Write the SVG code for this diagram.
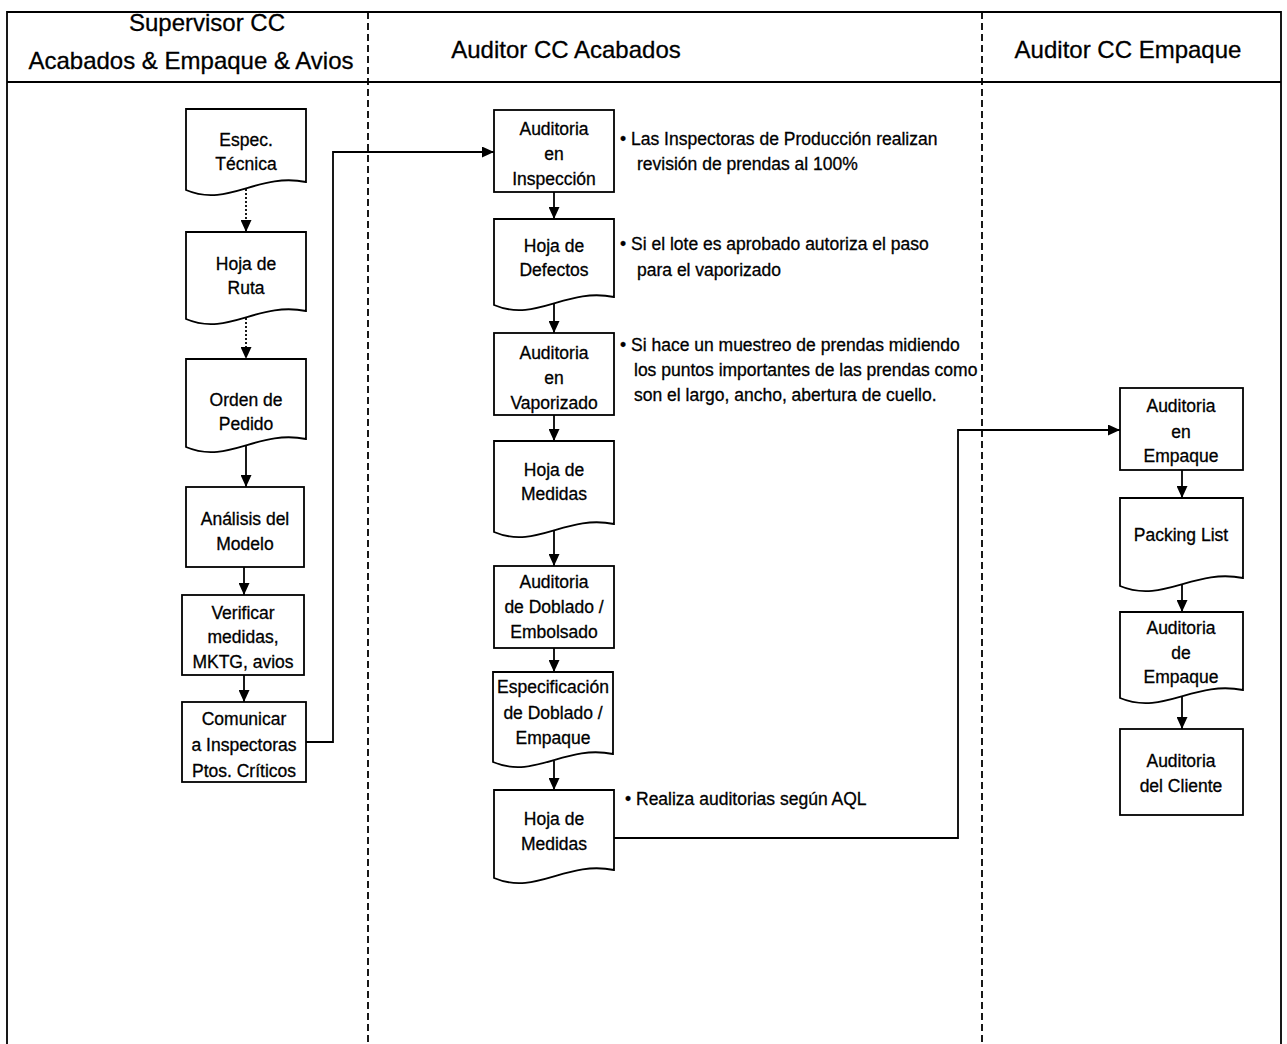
<svg xmlns="http://www.w3.org/2000/svg" width="1287" height="1044" viewBox="0 0 1287 1044">
  <style>
    text { font-family: "Liberation Sans", Arial, sans-serif; fill: #000; stroke: #000; stroke-width: 0.3; }
    .hdr { font-size: 24px; text-anchor: middle; }
    .lbl { font-size: 17.5px; text-anchor: middle; }
    .note { font-size: 17.5px; }
    .shape { fill: #fff; stroke: #000; stroke-width: 1.8; }
    .frame { fill: none; stroke: #000; stroke-width: 1.8; }
    .lane { fill: none; stroke: #000; stroke-width: 1.8; stroke-dasharray: 7 4; }
    .flow { fill: none; stroke: #000; stroke-width: 1.8; }
    .dot { fill: none; stroke: #000; stroke-width: 1.8; stroke-dasharray: 2 2; }
  </style>
  <defs>
    <marker id="arr" viewBox="0 0 12 11" refX="12" refY="5.5" markerWidth="12" markerHeight="11" markerUnits="userSpaceOnUse" orient="auto">
      <path d="M0,0 L12,5.5 L0,11 Z" fill="#000"/>
    </marker>
  </defs>

  <rect width="1287" height="1044" fill="#fff"/>

  <!-- swimlane frame -->
  <g id="lanes">
    <path class="frame" d="M7,1044 V12 H1281 V1044"/>
    <line class="frame" x1="7" y1="82" x2="1281" y2="82"/>
    <line class="lane" x1="368" y1="12" x2="368" y2="1044"/>
    <line class="lane" x1="982" y1="12" x2="982" y2="1044"/>
    <text class="hdr" x="207" y="31">Supervisor CC</text>
    <text class="hdr" x="191" y="69">Acabados &amp; Empaque &amp; Avios</text>
    <text class="hdr" x="566" y="58">Auditor CC Acabados</text>
    <text class="hdr" x="1128" y="58">Auditor CC Empaque</text>
  </g>

  <!-- connectors -->
  <g id="connectors">
    <line class="dot" x1="246" y1="189" x2="246" y2="232" marker-end="url(#arr)"/>
    <line class="dot" x1="246" y1="318" x2="246" y2="359" marker-end="url(#arr)"/>
    <line class="flow" x1="246" y1="446" x2="246" y2="487" marker-end="url(#arr)"/>
    <line class="flow" x1="244" y1="567" x2="244" y2="595" marker-end="url(#arr)"/>
    <line class="flow" x1="244" y1="675" x2="244" y2="702" marker-end="url(#arr)"/>
    <path class="flow" d="M306,742 H333 V152 H494" marker-end="url(#arr)"/>
    <line class="flow" x1="554" y1="192" x2="554" y2="219" marker-end="url(#arr)"/>
    <line class="flow" x1="554" y1="304" x2="554" y2="333" marker-end="url(#arr)"/>
    <line class="flow" x1="554" y1="415" x2="554" y2="441" marker-end="url(#arr)"/>
    <line class="flow" x1="554" y1="531" x2="554" y2="566" marker-end="url(#arr)"/>
    <line class="flow" x1="554" y1="648" x2="554" y2="672" marker-end="url(#arr)"/>
    <line class="flow" x1="554" y1="761" x2="554" y2="790" marker-end="url(#arr)"/>
    <path class="flow" d="M614,838 H958 V430 H1120" marker-end="url(#arr)"/>
    <line class="flow" x1="1182" y1="470" x2="1182" y2="498" marker-end="url(#arr)"/>
    <line class="flow" x1="1182" y1="585" x2="1182" y2="612" marker-end="url(#arr)"/>
    <line class="flow" x1="1182" y1="697" x2="1182" y2="729" marker-end="url(#arr)"/>
  </g>

  <!-- Supervisor lane -->
  <g id="espec-tecnica">
    <path class="shape" d="M186,109 H306 V182 C258,172 228,208 186,190 Z"/>
    <text class="lbl" x="246" y="146">Espec.</text>
    <text class="lbl" x="246" y="170">Técnica</text>
  </g>
  <g id="hoja-ruta">
    <path class="shape" d="M186,232 H306 V311 C258,301 228,337 186,319 Z"/>
    <text class="lbl" x="246" y="270">Hoja de</text>
    <text class="lbl" x="246" y="294">Ruta</text>
  </g>
  <g id="orden-pedido">
    <path class="shape" d="M186,359 H306 V439 C258,429 228,465 186,447 Z"/>
    <text class="lbl" x="246" y="406">Orden de</text>
    <text class="lbl" x="246" y="430">Pedido</text>
  </g>
  <g id="analisis-modelo">
    <rect class="shape" x="186" y="487" width="118" height="80"/>
    <text class="lbl" x="245" y="525">Análisis del</text>
    <text class="lbl" x="245" y="550">Modelo</text>
  </g>
  <g id="verificar">
    <rect class="shape" x="182" y="595" width="122" height="80"/>
    <text class="lbl" x="243" y="619">Verificar</text>
    <text class="lbl" x="243" y="643">medidas,</text>
    <text class="lbl" x="243" y="668">MKTG, avios</text>
  </g>
  <g id="comunicar">
    <rect class="shape" x="182" y="702" width="124" height="80"/>
    <text class="lbl" x="244" y="725">Comunicar</text>
    <text class="lbl" x="244" y="751">a Inspectoras</text>
    <text class="lbl" x="244" y="777">Ptos. Críticos</text>
  </g>

  <!-- Auditor CC Acabados lane -->
  <g id="auditoria-inspeccion">
    <rect class="shape" x="494" y="110" width="120" height="82"/>
    <text class="lbl" x="554" y="135">Auditoria</text>
    <text class="lbl" x="554" y="160">en</text>
    <text class="lbl" x="554" y="185">Inspección</text>
  </g>
  <g id="hoja-defectos">
    <path class="shape" d="M494,219 H614 V297 C566,287 536,323 494,305 Z"/>
    <text class="lbl" x="554" y="252">Hoja de</text>
    <text class="lbl" x="554" y="276">Defectos</text>
  </g>
  <g id="auditoria-vaporizado">
    <rect class="shape" x="494" y="333" width="120" height="82"/>
    <text class="lbl" x="554" y="359">Auditoria</text>
    <text class="lbl" x="554" y="384">en</text>
    <text class="lbl" x="554" y="409">Vaporizado</text>
  </g>
  <g id="hoja-medidas-1">
    <path class="shape" d="M494,441 H614 V524 C566,514 536,550 494,532 Z"/>
    <text class="lbl" x="554" y="476">Hoja de</text>
    <text class="lbl" x="554" y="500">Medidas</text>
  </g>
  <g id="auditoria-doblado">
    <rect class="shape" x="494" y="566" width="120" height="82"/>
    <text class="lbl" x="554" y="588">Auditoria</text>
    <text class="lbl" x="554" y="613">de Doblado /</text>
    <text class="lbl" x="554" y="638">Embolsado</text>
  </g>
  <g id="especificacion">
    <path class="shape" d="M493,672 H613 V754 C565,744 535,780 493,762 Z"/>
    <text class="lbl" x="553" y="693">Especificación</text>
    <text class="lbl" x="553" y="719">de Doblado /</text>
    <text class="lbl" x="553" y="744">Empaque</text>
  </g>
  <g id="hoja-medidas-2">
    <path class="shape" d="M494,790 H614 V870 C566,860 536,896 494,878 Z"/>
    <text class="lbl" x="554" y="825">Hoja de</text>
    <text class="lbl" x="554" y="850">Medidas</text>
  </g>

  <!-- notes -->
  <g id="notas">
    <text class="note" x="620" y="145">• Las Inspectoras de Producción realizan</text>
    <text class="note" x="637" y="170">revisión de prendas al 100%</text>
    <text class="note" x="620" y="250">• Si el lote es aprobado autoriza el paso</text>
    <text class="note" x="637" y="276">para el vaporizado</text>
    <text class="note" x="620" y="351">• Si hace un muestreo de prendas midiendo</text>
    <text class="note" x="634" y="376">los puntos importantes de las prendas como</text>
    <text class="note" x="634" y="401">son el largo, ancho, abertura de cuello.</text>
    <text class="note" x="625" y="805">• Realiza auditorias según AQL</text>
  </g>

  <!-- Auditor CC Empaque lane -->
  <g id="auditoria-empaque">
    <rect class="shape" x="1120" y="388" width="123" height="82"/>
    <text class="lbl" x="1181" y="412">Auditoria</text>
    <text class="lbl" x="1181" y="438">en</text>
    <text class="lbl" x="1181" y="462">Empaque</text>
  </g>
  <g id="packing-list">
    <path class="shape" d="M1120,498 H1243 V578 C1194,568 1163,604 1120,586 Z"/>
    <text class="lbl" x="1181" y="541">Packing List</text>
  </g>
  <g id="auditoria-de-empaque">
    <path class="shape" d="M1120,612 H1243 V690 C1194,680 1163,716 1120,698 Z"/>
    <text class="lbl" x="1181" y="634">Auditoria</text>
    <text class="lbl" x="1181" y="659">de</text>
    <text class="lbl" x="1181" y="683">Empaque</text>
  </g>
  <g id="auditoria-cliente">
    <rect class="shape" x="1120" y="729" width="123" height="86"/>
    <text class="lbl" x="1181" y="767">Auditoria</text>
    <text class="lbl" x="1181" y="792">del Cliente</text>
  </g>
</svg>
